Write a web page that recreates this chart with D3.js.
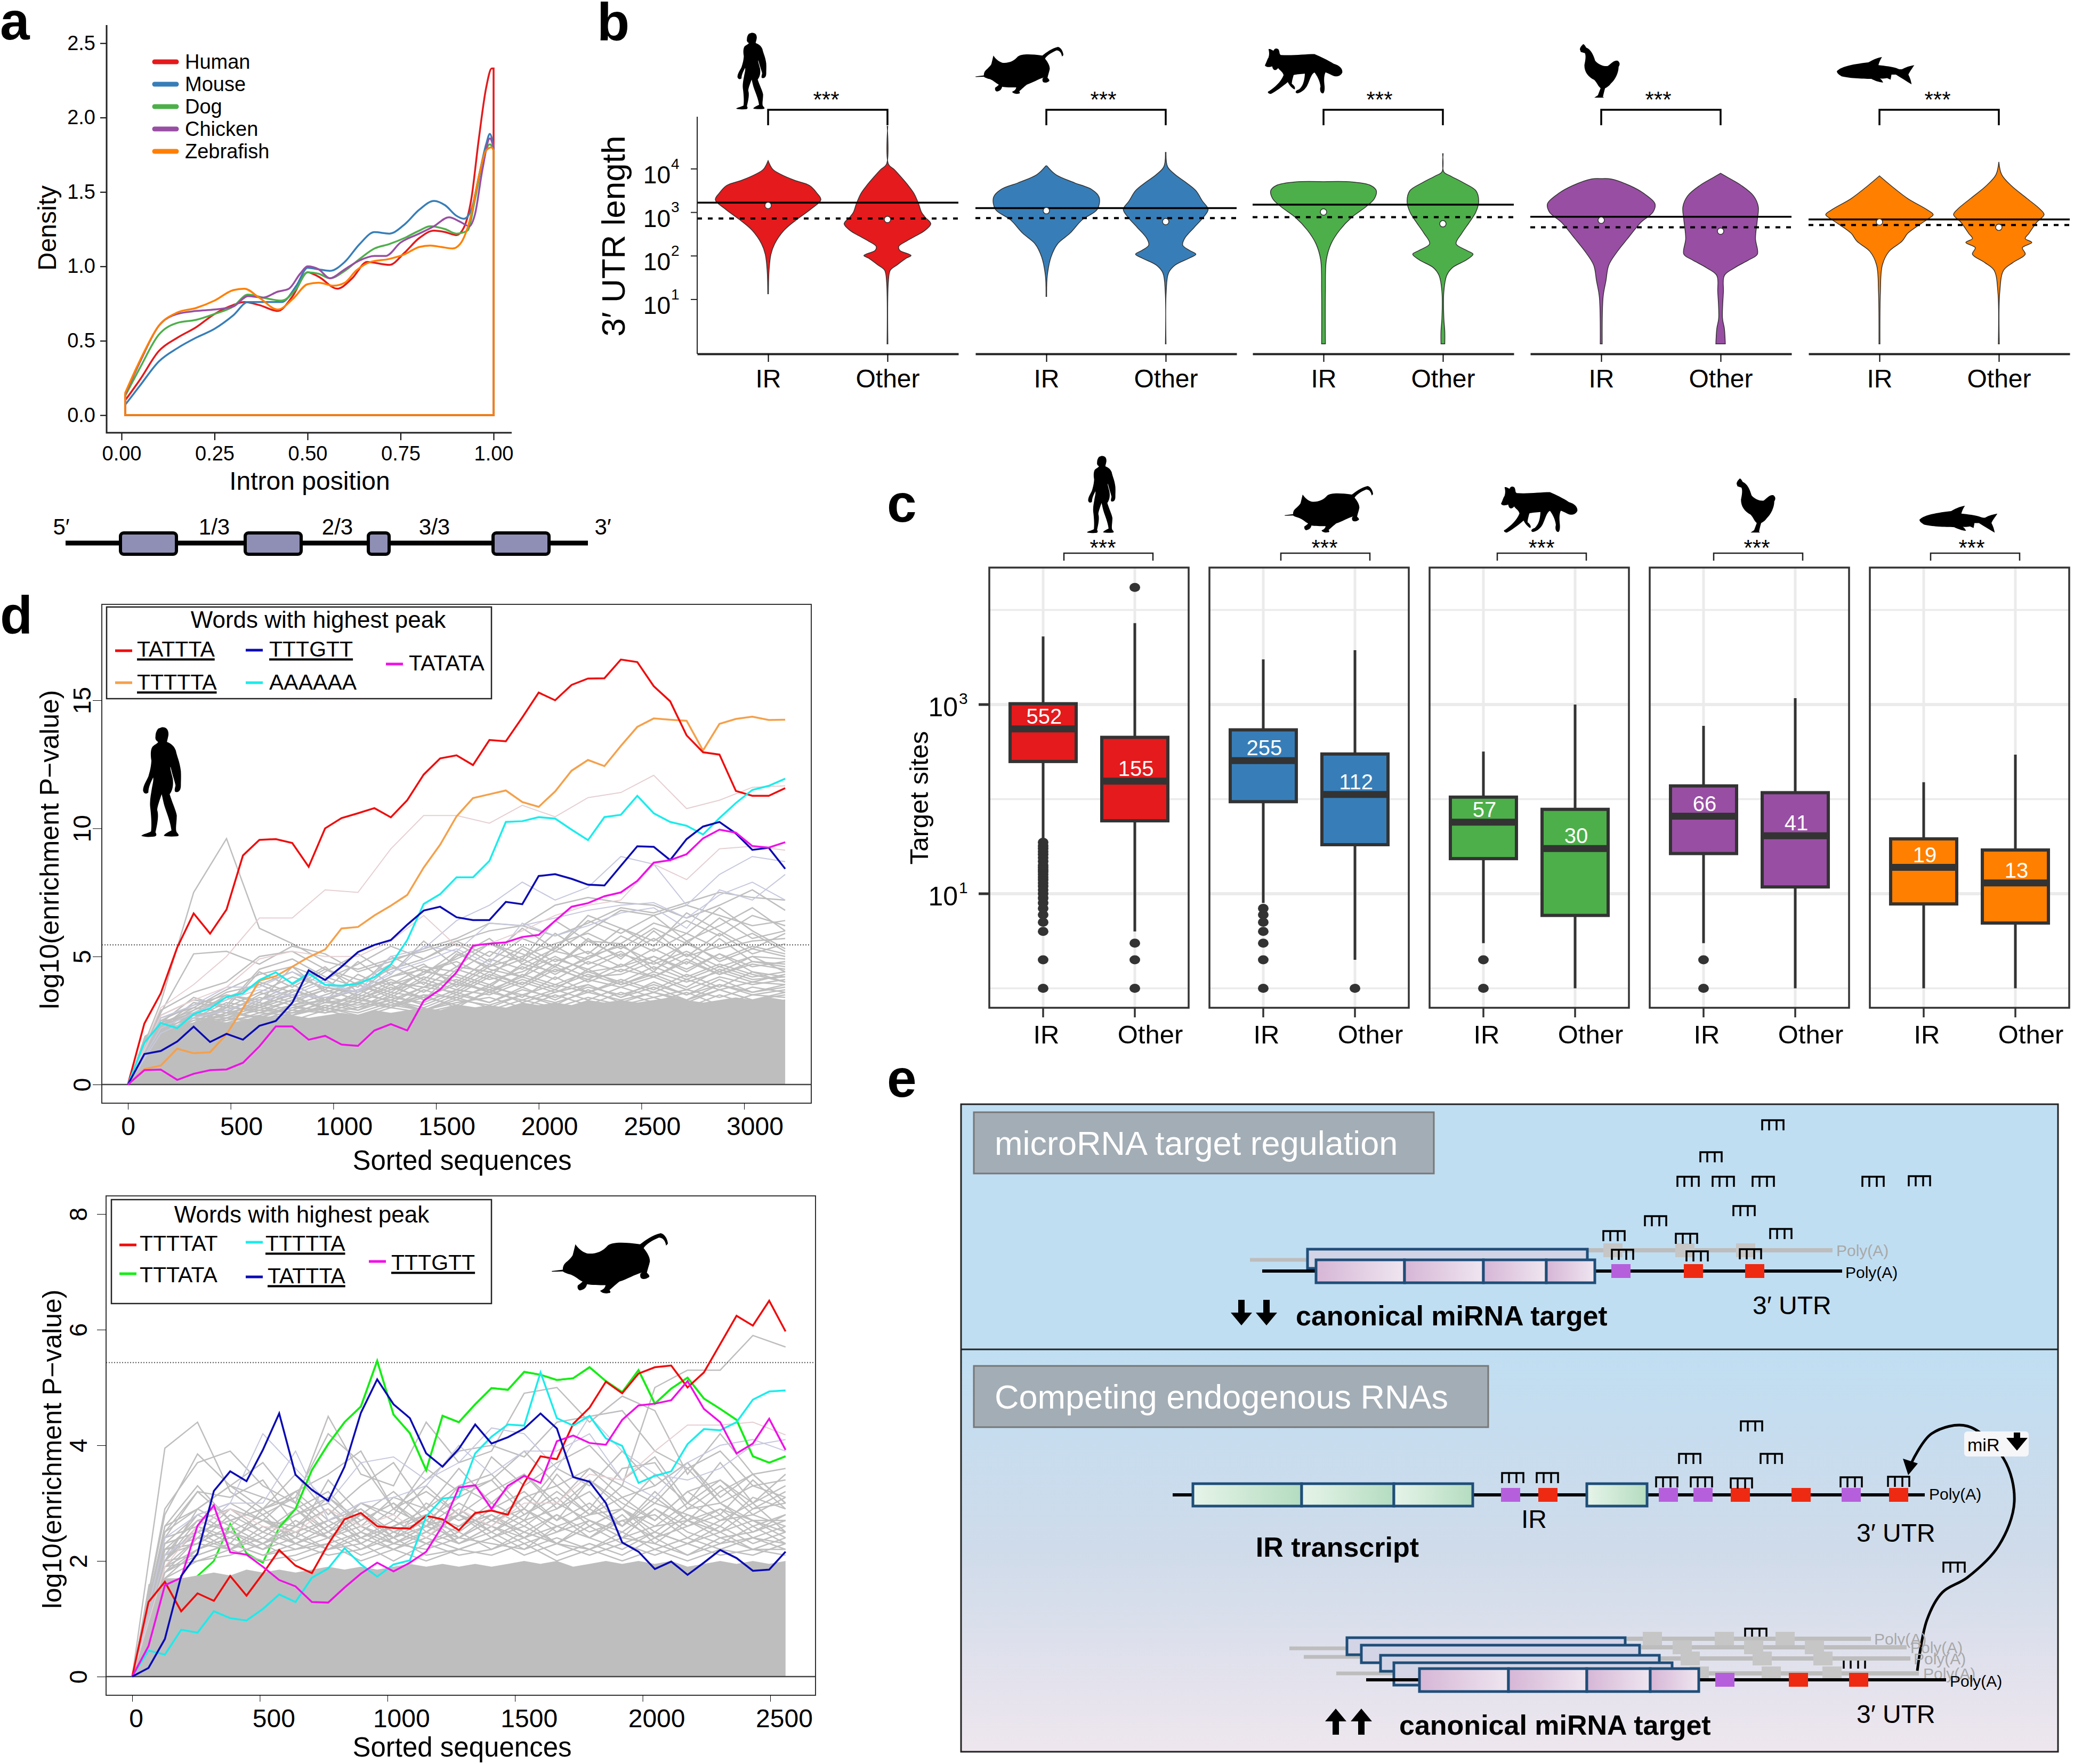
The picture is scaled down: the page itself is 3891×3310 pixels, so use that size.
<!DOCTYPE html>
<html>
<head>
<meta charset="utf-8">
<script src="https://cdnjs.cloudflare.com/ajax/libs/d3/7.8.5/d3.min.js"></script>
<style>
	body { margin: 0; background: #fff; }
	svg { display: block; }
</style>
</head>
<body>
<div id="chart"></div>
<script>
//Panel a data
let densityX = {
	Human: [0.01,0.05,0.1,0.15,0.2,0.25,0.3,0.33,0.37,0.42,0.46,0.5,0.53,0.58,0.62,0.66,0.72,0.76,0.8,0.84,0.87,0.9,0.92,0.94,0.96,0.98,0.995,1],
	Mouse: [0.01,0.05,0.1,0.15,0.2,0.25,0.3,0.34,0.38,0.43,0.47,0.5,0.53,0.56,0.6,0.64,0.68,0.72,0.76,0.8,0.84,0.87,0.9,0.92,0.94,0.96,0.98,0.99,1],
	Dog: [0.01,0.05,0.1,0.15,0.2,0.25,0.3,0.34,0.38,0.43,0.47,0.5,0.53,0.56,0.6,0.64,0.68,0.72,0.76,0.8,0.83,0.87,0.9,0.93,0.95,0.97,0.99,1],
	Chicken: [0.01,0.05,0.1,0.15,0.2,0.25,0.3,0.34,0.38,0.42,0.45,0.48,0.5,0.53,0.56,0.6,0.64,0.68,0.71,0.75,0.8,0.84,0.88,0.91,0.935,0.95,0.97,0.99,1],
	Zebrafish: [0.01,0.05,0.1,0.15,0.2,0.25,0.3,0.33,0.37,0.42,0.46,0.5,0.53,0.57,0.6,0.63,0.67,0.72,0.76,0.8,0.83,0.86,0.89,0.91,0.94,0.96,0.98,0.995,1]
};
let densityY = {
	Human: [0.10,0.24,0.43,0.52,0.59,0.68,0.74,0.76,0.74,0.70,0.80,0.96,0.93,0.85,0.92,1.03,1.01,1.09,1.19,1.24,1.23,1.21,1.26,1.45,1.85,2.2,2.33,2.33],
	Mouse: [0.07,0.20,0.36,0.45,0.52,0.58,0.67,0.76,0.76,0.76,0.87,0.99,0.98,0.97,1.03,1.15,1.23,1.22,1.28,1.38,1.44,1.41,1.34,1.32,1.38,1.6,1.82,1.89,1.8],
	Dog: [0.13,0.32,0.54,0.62,0.64,0.68,0.73,0.81,0.79,0.77,0.85,0.96,0.95,0.92,0.97,1.05,1.12,1.15,1.19,1.24,1.27,1.25,1.22,1.24,1.45,1.7,1.82,1.78],
	Chicken: [0.14,0.36,0.6,0.68,0.7,0.71,0.73,0.8,0.79,0.83,0.85,0.95,1.0,0.98,0.92,0.98,1.04,1.07,1.07,1.16,1.22,1.27,1.33,1.3,1.27,1.35,1.65,1.86,1.8],
	Zebrafish: [0.15,0.37,0.6,0.69,0.72,0.77,0.84,0.85,0.79,0.71,0.78,0.88,0.89,0.87,0.89,0.97,1.03,1.05,1.08,1.13,1.14,1.13,1.12,1.15,1.35,1.6,1.78,1.8,1.78]
};
let speciesNames = ["Human", "Mouse", "Dog", "Chicken", "Zebrafish"];
let speciesColors = ["#e41a1c", "#377eb8", "#4daf4a", "#984ea3", "#ff7f00"];
let aTicksX = [0, 0.25, 0.5, 0.75, 1];
let aTicksY = [0, 0.5, 1, 1.5, 2, 2.5];

//Panel b data, log10 length and violin half width
let violinHumanIR = [[4.19,0],[3.99,5],[3.87,14],[3.74,28],[3.62,44],[3.44,52],[3.29,56],[3.07,45],[2.83,30],[2.59,17],[2.28,7],[2.04,3],[1.67,1],[1.13,0.3]];
let violinHumanOther = [[4.98,0.3],[4.11,1],[3.99,7],[3.8,15],[3.62,22],[3.44,28],[3.2,33],[3.01,36],[2.89,40],[2.74,46],[2.59,40],[2.46,30],[2.34,20],[2.22,12],[2.13,13],[2.01,25],[1.95,20],[1.79,10],[1.67,3],[1.43,1],[-0.02,0.4]];
let violinMouseIR = [[4.07,0.5],[3.87,10],[3.68,30],[3.53,48],[3.35,56],[3.07,54],[2.83,38],[2.52,25],[2.28,12],[1.98,5],[1.55,1],[1.07,0.3]];
let violinMouseOther = [[4.38,0.3],[4.05,2],[3.87,10],[3.68,22],[3.5,32],[3.26,39],[3.07,45],[2.89,40],[2.65,30],[2.4,20],[2.25,18],[2.13,25],[2.04,32],[1.95,25],[1.79,10],[1.61,3],[1.18,0.5],[-0.02,0.3]];
let violinDogIR = [[3.705,0],[3.7,30],[3.62,50],[3.5,56],[3.32,54],[3.13,45],[2.89,30],[2.59,17],[2.28,8],[1.91,3],[1.18,2],[-0.02,2]];
let violinDogOther = [[4.35,0.3],[3.93,1],[3.84,8],[3.68,22],[3.5,35],[3.26,38],[3.01,35],[2.77,28],[2.52,20],[2.28,14],[2.13,25],[2.04,32],[1.91,25],[1.73,10],[1.55,4],[1.18,1],[0.57,1],[0.27,2],[-0.02,2]];
let violinChickenIR = [[3.775,0],[3.77,10],[3.62,30],[3.44,45],[3.2,57],[3.01,55],[2.77,42],[2.4,28],[2.1,17],[1.79,8],[1.43,5],[1.06,2],[-0.02,1]];
let violinChickenOther = [[3.9,0],[3.8,8],[3.62,22],[3.38,35],[3.13,40],[2.83,39],[2.4,37],[2.04,39],[1.91,30],[1.73,15],[1.55,4],[1.18,3],[0.57,2],[0.33,4],[-0.02,5]];
let violinZebrafishIR = [[3.84,0],[3.62,12],[3.32,30],[3.07,50],[2.95,57],[2.83,50],[2.52,30],[2.34,24],[2.1,10],[1.79,3],[1.18,1],[-0.02,0.5]];
let violinZebrafishOther = [[4.16,0],[3.87,3],[3.62,13],[3.32,30],[3.07,44],[2.95,48],[2.77,40],[2.52,32],[2.4,28],[2.31,35],[2.19,25],[2.04,28],[1.85,15],[1.67,5],[1.18,1],[-0.02,0.5]];
let bMeanIR = [3.226, 3.10, 3.18, 2.90, 2.84];
let bMeanOther = [2.86, 2.87, 2.89, 2.66, 2.71];
let bPointIR = [3.16, 3.04, 3.01, 2.82, 2.78];
let bPointOther = [2.84, 2.79, 2.74, 2.57, 2.66];
let bTicks = [1, 2, 3, 4];
let groupNames = ["IR", "Other"];

//Panel c data, pairs are IR then Other
let boxQ1 = [[250,59],[94,33],[23.5,5.9],[26.6,11.8],[7.8,4.9]];
let boxMedian = [[552,155],[255,112],[57,30],[66,41],[19,13]];
let boxQ3 = [[1020,450],[540,300],[105,78],[138,117],[38,29]];
let whiskerHi = [[5250,7250],[3000,3760],[318,1000],[595,1170],[151,295]];
let whiskerLo = [[36,4],[8,2],[3,1],[3,1],[1,1]];
let outliersIR = [
	[1,2,4,5,6,7,8,9,10,11,12,13,14,15,16,17,18,19,20,22,24,26,28,30,32,35],
	[1,2,3,4,5,6,7], [1,2], [1,2], []
];
let outliersOther = [[1,2,3,17300], [1], [], [], []];
let cTicks = [1, 10, 100, 1000, 10000];

//Panel d data, human words sampled every 80 sequences
let humanRed = [0,2.38,3.56,5.35,6.68,5.89,6.83,8.94,9.55,9.58,9.43,8.5,10.0,10.4,10.59,10.79,10.43,11.1,12.1,12.73,12.85,12.47,13.45,13.4,14.33,15.3,15.0,15.6,15.85,15.86,16.59,16.49,15.55,14.96,13.63,12.97,12.88,11.46,11.27,11.27,11.57];
let humanOrange = [0,0.6,0.74,1.4,1.22,1.26,1.96,2.97,4.05,4.23,4.6,4.97,5.27,6.09,6.15,6.6,6.98,7.4,8.47,9.36,10.47,11.18,11.33,11.48,11.03,10.84,11.44,12.25,12.67,12.43,13.22,13.96,14.29,14.24,14.2,13.04,14.08,14.27,14.36,14.23,14.24];
let humanCyan = [0,1.63,2.4,2.2,2.75,2.97,3.42,3.56,4.08,4.38,3.94,4.34,3.89,3.86,3.94,4.19,4.68,5.64,7.05,7.43,8.09,8.09,8.73,10.25,10.28,10.44,10.38,9.95,9.54,10.44,10.53,11.27,10.59,10.25,10.1,9.76,10.4,10.99,11.5,11.66,11.94];
let humanNavy = [0,1.19,1.31,1.68,2.26,1.66,1.98,1.75,2.29,2.48,3.19,4.46,4.08,4.6,5.17,5.45,5.64,6.24,6.79,6.94,6.53,6.42,6.42,7.13,7.04,8.14,8.21,8.03,7.8,7.77,8.54,9.3,9.28,8.76,9.58,10.07,10.25,9.8,9.16,9.24,8.42];
let humanMagenta = [0,0.56,0.58,0.18,0.42,0.56,0.59,0.85,1.49,2.27,2.27,1.75,1.9,1.56,1.51,2.11,2.36,2.11,3.27,3.71,4.38,5.42,5.5,5.55,5.76,5.84,6.39,6.94,7.08,7.35,7.5,7.95,8.66,8.76,8.99,9.61,9.95,9.83,9.31,9.25,9.46];
let humanMass = [0,1.9,2.3,2.3,2.4,2.5,2.4,2.5,2.7,2.6,2.7,2.6,2.7,2.8,2.7,2.9,2.8,2.9,3.0,2.9,3.1,3.0,3.1,3.0,3.2,3.1,3.2,3.1,3.3,3.2,3.3,3.2,3.3,3.4,3.3,3.2,3.3,3.4,3.3,3.4,3.3];
//background words, every 160 sequences
let humanPink = [
	[0,3.0,3.9,5.0,6.5,6.5,7.6,7.5,9.2,10.5,10.5,10.2,10.9,10.45,11.2,11.4,12.07,10.77,11.1,11.6,11.66],
	[0,2.7,3.3,3.8,4.9,5.2,5.0,5.0,5.6,6.6,5.4,5.5,6.0,6.6,7.0,7.2,8.6,8.0,9.2,9.3,9.15]
];
let humanLavender = [
	[0,2.6,3.1,3.8,3.8,4.4,3.9,3.6,5.0,5.3,6.4,7.0,7.9,7.2,7.7,8.9,8.6,7.0,8.2,8.9,8.7],
	[0,2.2,2.8,3.3,3.7,3.5,3.4,3.7,4.3,5.4,5.2,6.3,6.2,6.5,6.8,7.0,7.1,6.5,7.4,7.9,7.2],
	[0,2.0,2.6,2.9,3.3,3.5,4.0,3.6,4.4,4.8,5.3,4.7,6.3,5.8,6.2,6.7,6.9,6.1,7.6,7.2,8.2]
];
let humanGray = [
	[0,3.2,7.5,9.6,6.1,5.5,4.8,4.5,4.9,5.2,5.6,6.0,6.2,5.8,6.3,6.9,6.7,7.1,7.5,7.3,7.2],
	[0,2.8,5.1,5.2,4.7,5.4,5.1,4.4,4.8,5.3,5.7,6.3,6.2,7.0,7.3,7.1,7.0,6.5,7.0,7.6,6.8],
	[0,2.9,3.6,4.0,5.0,5.2,4.5,3.9,4.5,4.9,5.5,4.8,5.7,5.2,6.0,6.8,6.6,7.0,6.6,6.2,6.4],
	[0,2.4,3.4,3.0,4.4,3.8,4.5,4.1,3.9,4.6,4.4,5.2,4.8,5.9,5.1,6.1,5.6,6.4,5.8,6.6,6.2],
	[0,2.5,3.1,3.5,3.2,4.6,3.6,4.0,4.7,3.9,5.1,4.6,5.0,5.5,5.9,5.3,6.1,5.5,6.5,5.7,6.0],
	[0,2.1,2.9,3.4,3.9,3.4,3.8,3.5,4.2,4.5,4.0,4.9,4.5,5.2,4.9,5.8,5.2,5.9,5.3,5.6,5.7],
	[0,2.3,3.0,2.8,3.5,3.9,3.3,4.3,3.7,4.4,4.8,4.2,5.3,4.6,5.6,5.0,5.7,5.0,5.9,5.1,5.5],
	[0,2.2,2.6,3.2,3.0,3.6,4.1,3.4,4.0,3.8,4.6,4.4,4.9,4.3,5.0,5.4,4.8,5.5,4.9,5.4,5.1],
	[0,1.9,2.7,2.9,3.4,3.1,3.5,3.9,3.5,4.2,3.9,4.7,4.2,4.9,4.5,5.1,4.7,5.2,4.6,5.0,4.9],
	[0,2.0,2.4,3.1,2.8,3.3,3.0,3.6,4.1,3.6,4.3,3.9,4.6,4.1,4.8,4.4,5.0,4.5,5.1,4.6,4.8],
	[0,2.1,2.5,2.7,3.2,2.9,3.4,3.2,3.7,4.0,3.5,4.2,3.8,4.5,4.1,4.7,4.2,4.8,4.3,4.7,4.5],
	[0,1.8,2.6,2.5,3.0,3.4,3.0,3.5,3.3,3.8,4.1,3.6,4.3,3.9,4.4,4.0,4.6,4.1,4.6,4.2,4.4],
	[0,2.0,2.3,2.8,2.6,3.1,3.3,3.0,3.6,3.4,3.9,3.7,4.2,3.8,4.3,3.9,4.4,4.0,4.4,4.0,4.3],
	[0,1.7,2.4,2.6,2.9,2.8,3.2,3.1,3.4,3.2,3.7,3.5,4.0,3.6,4.1,3.8,4.2,3.7,4.2,3.9,4.1],
	[0,1.9,2.2,2.5,2.7,3.0,2.9,3.3,3.1,3.5,3.4,3.8,3.5,3.9,3.6,4.0,3.6,4.1,3.7,4.0,3.9],
	[0,1.6,2.3,2.4,2.8,2.7,3.1,2.9,3.3,3.0,3.5,3.2,3.7,3.4,3.8,3.5,3.9,3.5,3.9,3.6,3.8],
	[0,1.8,2.1,2.6,2.5,2.9,2.8,3.2,3.0,3.4,3.1,3.6,3.3,3.7,3.3,3.8,3.4,3.7,3.4,3.8,3.6],
	[0,1.7,2.2,2.3,2.6,2.7,3.0,2.8,3.2,2.9,3.3,3.1,3.5,3.2,3.6,3.3,3.6,3.3,3.7,3.3,3.5],
	[0,2.6,3.0,3.7,4.3,4.6,4.1,4.7,5.4,4.9,5.6,5.0,6.1,5.3,6.4,5.9,6.6,5.6,6.2,6.9,6.0],
	[0,2.4,2.8,3.3,4.0,3.6,4.4,5.1,4.3,5.6,4.6,5.5,4.9,6.4,5.6,5.5,6.3,5.9,6.9,6.0,5.3],
	[0,2.2,3.2,3.0,3.6,4.2,3.8,3.6,4.6,4.1,5.0,5.7,4.7,5.3,6.6,6.1,5.4,6.7,6.0,5.3,5.9],
	[0,2.3,2.8,3.4,3.1,3.7,3.3,3.9,3.4,4.1,3.7,4.4,3.9,4.6,4.0,4.5,4.2,4.9,4.3,4.8,4.6],
	[0,2.5,2.6,3.0,3.6,3.2,3.7,3.3,3.8,3.4,4.0,3.6,4.1,3.7,4.5,3.9,4.3,3.8,4.5,4.1,4.2],
	[0,2.1,2.7,2.6,3.1,3.5,2.9,3.4,3.0,3.7,3.3,3.9,3.4,4.2,3.6,4.1,3.7,4.3,3.8,4.4,4.0],
	[0,1.9,2.5,2.9,2.6,3.0,3.3,2.9,3.5,3.1,3.6,3.2,3.8,3.3,3.9,3.4,4.0,3.5,4.1,3.6,3.9],
	[0,2.2,2.4,2.7,3.0,2.8,3.2,3.4,3.0,3.5,3.0,3.7,3.2,3.6,3.9,3.4,3.8,3.3,3.9,3.5,3.7],
	[0,1.8,2.6,2.4,2.8,3.1,2.8,3.0,3.3,2.9,3.4,3.0,3.5,3.1,3.7,3.2,3.6,3.2,3.7,3.3,3.6],
	[0,2.0,2.2,2.6,2.4,2.8,3.0,2.7,3.1,2.9,3.2,3.4,3.0,3.5,3.1,3.6,3.2,3.6,3.1,3.5,3.4],
	[0,1.7,2.3,2.2,2.6,2.5,2.9,2.6,3.0,2.8,3.1,2.9,3.3,3.0,3.4,3.1,3.4,3.0,3.5,3.1,3.3],
	[0,2.4,2.9,3.6,3.9,4.4,3.7,4.8,3.9,4.3,5.2,4.5,4.2,5.4,4.7,5.2,4.4,5.6,4.8,5.3,5.0],
	[0,2.7,3.3,3.1,4.5,4.9,4.2,3.8,5.0,4.4,4.9,5.5,5.1,4.6,5.7,4.9,6.0,5.0,5.4,5.9,5.2],
	[0,2.3,2.7,3.5,3.3,3.9,4.6,3.6,4.2,4.7,3.8,4.6,5.4,4.8,5.2,4.6,5.3,4.7,5.7,4.8,4.7],
	[0,2.0,2.8,2.7,3.3,3.7,3.2,4.0,3.6,4.4,4.2,3.8,4.7,4.4,4.9,5.5,4.5,5.1,4.4,5.0,4.4],
	[0,2.1,2.3,3.0,2.9,3.3,3.7,3.3,3.9,3.3,4.5,4.1,4.4,5.0,4.4,4.6,5.0,4.4,5.1,4.4,4.2],
	[0,1.9,2.4,2.8,3.1,2.7,3.3,3.7,3.2,3.8,3.6,4.3,3.9,4.7,4.2,4.3,4.8,4.2,4.7,4.3,4.0]
];
let humanXTicks = [0, 500, 1000, 1500, 2000, 2500, 3000];
let humanYTicks = [0, 5, 10, 15];

//mouse words sampled every 64 sequences
let mouseRed = [0,1.29,1.64,1.13,1.44,1.31,1.74,1.4,1.78,2.19,1.92,1.79,2.29,2.72,2.83,2.6,2.57,2.56,2.78,2.72,2.53,2.83,2.87,2.8,3.35,3.81,3.76,4.37,4.65,5.1,4.9,5.24,5.35,5.38,5.0,5.26,5.75,6.24,6.07,6.5,5.97];
let mouseGreen = [0,0.53,1.1,1.49,1.74,2,2.64,2.13,1.97,2.58,2.9,3.57,4.02,4.4,4.67,5.46,4.53,4.21,3.57,4.51,4.4,4.71,4.99,4.96,5.27,5.22,5.13,5.16,5.35,5.11,4.92,5.3,4.72,4.98,5.17,4.81,4.63,4.44,3.81,3.7,3.81];
let mouseCyan = [0,0.45,0.38,0.81,0.76,1.13,1.01,0.97,1.17,1.42,1.29,1.71,1.87,2.22,1.94,1.73,1.94,2.01,2.77,3.08,3.11,3.86,4.15,4.36,4.34,5.26,4.47,4.34,4.51,4.12,3.99,3.35,3.47,3.55,4.02,4.28,4.26,4.4,4.79,4.93,4.95];
let mouseNavy = [0,0.15,0.65,1.74,2.13,3.21,3.55,3.38,3.92,4.55,3.49,3.23,3.04,3.63,4.56,5.14,4.71,4.47,3.86,3.63,3.94,4.36,4.03,4.14,4.29,4.55,4.29,3.45,3.37,3.0,2.32,2.16,1.86,1.99,1.76,1.97,2.19,2.05,1.83,1.85,2.16];
let mouseMagenta = [0,0.53,1.58,1.71,2.61,2.96,2.15,2.11,1.9,1.67,1.56,1.29,1.28,1.54,1.78,1.97,1.82,1.97,2.16,2.61,3.27,3.31,2.9,3.3,3.47,3.35,4.07,4.17,4.04,4.01,4.44,4.69,4.72,4.78,5.11,4.63,4.4,3.86,4.03,4.46,3.92];
let mouseMass = [0,1.6,1.7,1.7,1.75,1.8,1.75,1.85,1.8,1.85,1.8,1.85,1.9,1.85,1.9,1.85,1.9,1.95,1.9,1.95,1.9,1.95,1.9,1.95,2.0,1.95,2.0,1.9,1.95,2.0,1.95,2.0,1.95,2.0,1.9,1.95,2.0,1.95,2.0,1.95,2.0];
//background words, every 128 sequences
let mousePink = [
	[0,1.9,2.6,2.9,2.6,2.5,2.9,2.6,2.8,2.4,2.9,2.6,3.0,3.0,3.5,3.4,3.9,4.35,4.35,4.4,4.18]
];
let mouseLavender = [
	[0,2.4,2.8,3.0,4.2,3.6,3.0,3.7,3.8,3.4,3.7,4.3,4.2,3.6,4.5,3.9,3.5,3.4,3.6,4.0,4.1],
	[0,2.1,2.5,3.0,3.0,3.9,2.7,3.0,3.1,3.3,4.0,3.5,3.9,3.9,4.2,3.4,3.1,3.7,4.0,4.1,3.9]
];
let mouseGray = [
	[0,3.95,4.4,3.2,2.8,3.1,4.2,3.7,2.9,3.4,3.9,4.0,3.8,4.4,4.5,4.6,3.9,3.6,3.9,3.3,3.4],
	[0,2.8,3.85,3.3,3.7,3.0,4.5,3.5,3.3,4.4,3.7,3.9,4.9,5.0,4.4,4.85,4.6,3.5,4.2,3.5,3.0],
	[0,2.6,3.3,2.7,2.9,3.2,2.7,3.0,2.8,3.6,3.2,3.4,3.9,3.3,3.6,3.3,5.0,5.3,5.3,5.9,5.7],
	[0,2.4,3.2,3.1,3.4,2.6,3.1,2.7,3.0,2.6,3.3,3.5,2.9,3.6,3.3,3.9,3.3,3.7,3.1,3.5,3.6],
	[0,2.5,2.9,2.6,3.1,2.9,2.5,3.0,2.7,3.3,2.8,3.2,3.5,2.9,3.4,2.9,3.5,3.0,3.7,3.0,3.3],
	[0,2.2,2.7,2.9,2.5,2.8,3.0,2.5,2.9,2.6,3.0,2.7,3.1,3.3,2.8,3.1,2.7,3.2,3.4,2.9,3.2],
	[0,2.3,2.5,2.7,2.9,2.4,2.7,2.9,2.5,2.8,2.6,3.0,2.7,2.9,3.2,2.6,3.0,2.8,2.6,3.1,2.9],
	[0,2.0,2.6,2.4,2.7,2.6,2.9,2.4,2.7,2.4,2.8,2.5,2.9,2.6,2.8,2.9,2.5,2.9,3.0,2.6,2.8],
	[0,1.9,2.4,2.5,2.3,2.7,2.4,2.6,2.3,2.6,2.4,2.7,2.5,2.8,2.5,2.7,2.8,2.4,2.7,2.8,2.6],
	[0,2.1,2.3,2.2,2.5,2.3,2.5,2.2,2.5,2.7,2.3,2.6,2.3,2.5,2.7,2.4,2.6,2.7,2.4,2.5,2.7],
	[0,1.8,2.2,2.4,2.2,2.4,2.2,2.4,2.6,2.3,2.5,2.2,2.5,2.3,2.6,2.3,2.5,2.3,2.6,2.3,2.5],
	[0,2.0,2.1,2.3,2.1,2.2,2.4,2.1,2.3,2.2,2.4,2.3,2.2,2.4,2.2,2.5,2.2,2.4,2.2,2.4,2.3],
	[0,1.7,2.0,2.1,2.3,2.0,2.2,2.3,2.0,2.3,2.1,2.2,2.4,2.1,2.3,2.1,2.4,2.1,2.3,2.4,2.2],
	[0,2.9,3.7,3.9,3.3,3.0,2.5,2.8,2.3,2.5,2.8,2.6,3.1,2.7,3.4,3.0,2.7,3.2,2.8,3.4,2.9],
	[0,2.2,2.4,2.9,2.7,3.2,3.5,3.9,2.9,3.2,2.8,3.8,3.3,3.7,4.0,3.4,3.8,3.0,3.4,3.0,3.5],
	[0,2.0,2.9,3.3,3.1,2.9,3.2,2.6,3.1,2.9,3.6,3.0,2.7,3.5,2.9,3.6,3.7,2.9,3.3,2.8,3.1],
	[0,1.9,2.2,2.4,2.7,2.5,2.2,2.5,2.3,2.6,2.8,2.4,2.7,2.3,2.6,2.9,2.4,2.8,2.5,2.7,2.4],
	[0,2.3,2.8,2.5,2.3,2.6,2.4,2.8,2.5,2.3,2.6,2.8,2.4,2.6,2.4,2.7,2.4,2.6,2.8,2.4,2.6],
	[0,2.5,3.2,2.7,2.4,2.8,3.1,2.6,2.4,2.7,2.5,2.9,2.6,3.0,2.7,2.5,2.9,2.6,2.9,2.7,2.5],
	[0,1.8,2.4,2.2,2.6,2.3,2.6,2.3,2.6,2.9,2.4,2.7,2.9,2.5,2.9,2.6,3.1,2.7,2.5,2.9,3.0],
	[0,2.2,2.3,2.6,2.3,2.5,2.7,2.4,2.2,2.5,2.3,2.5,2.2,2.6,2.4,2.2,2.5,2.3,2.5,2.2,2.4],
	[0,2.0,2.5,2.2,2.4,2.2,2.3,2.5,2.2,2.4,2.2,2.4,2.6,2.3,2.2,2.4,2.3,2.1,2.4,2.2,2.2],
	[0,1.8,2.1,2.3,2.1,2.3,2.1,2.2,2.4,2.1,2.2,2.4,2.1,2.3,2.1,2.3,2.1,2.3,2.1,2.2,2.1],
	[0,1.9,2.0,2.2,2.0,2.1,2.3,2.0,2.2,2.0,2.2,2.1,2.3,2.0,2.2,2.0,2.2,2.0,2.2,2.1,2.3],
	[0,2.6,2.9,3.3,2.9,3.5,2.8,3.3,3.7,2.9,3.3,3.0,3.5,3.0,3.6,3.1,3.3,3.7,3.0,3.3,3.1],
	[0,2.1,2.8,3.0,2.7,2.4,3.4,2.8,3.2,2.7,3.1,3.4,2.8,3.2,2.8,3.3,3.0,3.6,3.0,2.7,2.7],
	[0,2.4,2.6,2.3,2.9,3.1,2.6,2.9,2.4,3.0,2.7,2.9,3.2,2.7,3.0,2.6,3.2,2.7,3.2,3.5,3.0],
	[0,2.2,2.3,2.8,2.5,2.9,2.4,2.7,3.0,2.5,2.9,2.5,2.8,3.1,2.6,2.9,2.6,3.0,2.7,3.0,2.5],
	[0,2.0,2.7,2.5,2.2,2.6,2.9,2.3,2.6,2.8,2.3,2.6,2.4,2.8,2.4,2.8,2.3,2.7,2.9,2.5,2.8],
	[0,1.7,2.2,2.5,2.8,2.3,2.5,2.8,2.4,2.6,2.4,2.8,2.5,2.3,2.7,2.4,2.9,2.5,2.3,2.6,2.3]
];
let mouseXTicks = [0, 500, 1000, 1500, 2000, 2500];
let mouseYTicks = [0, 2, 4, 6, 8];

let silhouettes = {
	human: { x0: 45, y0: 40, x1: 270, y1: 660, d: "M160,42 C185,40 200,55 198,85 C195,105 190,118 190,125 C215,135 232,150 240,175 C245,205 262,235 268,290 C270,320 268,345 268,370 C268,395 258,410 240,408 C228,405 235,385 238,370 C232,340 222,320 210,265 C205,270 215,300 222,330 C228,370 220,400 205,420 C220,470 240,510 245,540 C245,580 235,620 245,635 C258,650 260,655 245,658 C220,660 190,660 172,655 C175,645 195,635 215,625 C210,580 190,530 180,500 C170,470 165,440 160,420 C150,450 135,490 135,510 C145,540 135,590 125,635 C135,650 130,660 110,660 C85,662 60,662 45,655 C55,645 85,640 100,630 C105,590 100,530 95,490 C92,450 100,420 105,385 C110,360 115,340 112,325 C100,350 85,380 85,410 C75,420 60,420 55,400 C55,370 75,345 85,320 C95,285 100,265 102,230 C95,190 100,160 110,150 C120,140 135,135 140,125 C130,120 122,110 125,95 C125,80 128,65 140,50 Z" },
	mouse: { x0: 18, y0: 45, x1: 665, y1: 390, d: "M150,108 C165,130 185,150 215,160 C260,165 300,150 330,115 C355,95 420,95 510,108 C540,85 580,55 625,45 C650,50 665,85 665,105 L655,115 C650,85 635,70 615,70 C580,85 545,105 530,130 C550,155 565,180 565,205 C560,230 552,250 548,270 C560,280 565,290 560,295 C550,298 550,305 530,305 C515,305 508,295 512,275 L520,268 C480,280 440,305 395,320 C370,340 350,360 340,368 C345,375 350,385 335,385 C320,390 295,385 288,372 C300,365 315,360 318,340 C280,340 240,340 215,335 C210,350 205,365 175,370 C160,365 160,345 165,340 C175,335 185,325 190,320 C170,310 150,290 125,280 C105,275 90,270 80,262 L20,264 L18,260 L80,252 C80,235 85,220 105,205 C120,190 130,180 135,170 C140,150 145,130 150,108 Z" },
	dog: { x0: 52, y0: 35, x1: 480, y1: 300, d: "M72,42 C85,38 92,50 100,50 C105,35 120,35 128,45 C135,60 130,70 140,75 C200,80 270,70 325,70 C360,85 400,105 430,125 C465,135 480,155 478,175 C470,195 445,205 420,190 C400,180 390,175 385,175 C375,200 378,225 380,250 C382,270 380,290 372,295 C358,295 352,275 358,255 C355,225 340,195 325,175 C305,185 300,220 285,250 C275,270 255,290 230,295 C215,290 220,278 240,272 C260,255 270,225 272,182 C250,185 225,185 210,190 C205,210 200,225 200,240 C215,250 222,265 215,272 C200,265 185,245 178,230 C150,255 110,285 85,298 C70,298 62,285 75,282 C105,260 140,230 155,190 C150,170 135,165 125,150 C115,165 100,165 95,150 L92,140 C80,145 60,148 52,135 C60,120 65,100 72,90 C78,70 75,55 72,42 Z" },
	chicken: { x0: 50, y0: 18, x1: 275, y1: 328, d: "M68,20 C75,22 80,30 85,40 C110,50 125,80 135,115 C150,135 185,150 205,145 C225,130 240,110 260,115 C275,125 272,140 265,150 C265,185 245,225 222,245 C210,262 195,270 190,272 C185,290 180,310 178,322 L185,326 L130,326 L150,312 L165,272 C150,260 145,240 130,225 C95,205 75,180 75,140 C80,115 85,90 78,72 L55,65 L50,50 C52,35 60,30 68,20 Z" },
	fish: { x0: 38, y0: 20, x1: 475, y1: 185, d: "M38,105 C60,80 110,65 215,52 C235,40 260,25 292,20 C280,40 275,55 272,68 C310,72 350,78 370,85 C385,92 395,95 405,92 C425,80 450,72 473,68 C460,90 445,110 440,125 C450,145 455,165 458,183 C430,165 400,145 370,125 L345,125 L340,155 L320,145 C305,148 295,150 280,148 C290,155 295,165 298,172 C275,170 250,160 232,150 C180,150 100,145 65,135 C50,125 40,118 38,105 Z" }
};
let silhouetteOrder = ["human", "mouse", "dog", "chicken", "fish"];

let svg = d3.select("#chart")
	.append("svg")
	.attr("width", 3891)
	.attr("height", 3310)
	.style("font-family", "'Liberation Sans', Arial, sans-serif");

function addText(parent, x, y, str, size, fill) {
	return parent.append("text")
		.attr("x", x)
		.attr("y", y)
		.attr("dy", "0.35em")
		.attr("font-size", size)
		.attr("fill", fill || "#000")
		.text(str);
}

function addRotated(parent, x, y, str, size) {
	return parent.append("text")
		.attr("transform", "translate(" + x + "," + y + ") rotate(-90)")
		.attr("dy", "0.35em")
		.attr("text-anchor", "middle")
		.attr("font-size", size)
		.text(str);
}

function addSilhouette(name, x0, y0, x1, y1) {
	let s = silhouettes[name];
	let sx = (x1 - x0) / (s.x1 - s.x0);
	let sy = (y1 - y0) / (s.y1 - s.y0);
	svg.append("path")
		.attr("d", s.d)
		.attr("fill", "#000")
		.attr("transform", "translate(" + (x0 - s.x0 * sx) + "," + (y0 - s.y0 * sy) + ") scale(" + sx + "," + sy + ")");
}

function addPanelLetter(str, x, y) {
	svg.append("text")
		.attr("x", x)
		.attr("y", y)
		.attr("font-size", 100)
		.attr("font-weight", "bold")
		.text(str);
}

addPanelLetter("a", 0, 74);
addPanelLetter("b", 1120, 76);
addPanelLetter("c", 1664, 979);
addPanelLetter("d", 0, 1189);
addPanelLetter("e", 1664, 2058);

//Panel a
function create_a() {
	let g = svg.append("g");
	let x = d3.scaleLinear().domain([0, 1]).range([228, 926]);
	let y = d3.scaleLinear().domain([0, 2.5]).range([779, 81]);

	g.append("g")
		.attr("transform", "translate(200,0)")
		.style("font-size", "38px")
		.call(d3.axisLeft(y).tickValues(aTicksY).tickFormat(d3.format(".1f")).tickSize(12).tickPadding(9))
		.call(a => a.select(".domain").remove());
	g.append("g")
		.attr("transform", "translate(0,812)")
		.style("font-size", "38px")
		.call(d3.axisBottom(x).tickValues(aTicksX).tickFormat(d3.format(".2f")).tickSize(14).tickPadding(11))
		.call(a => a.select(".domain").remove());
	g.selectAll(".tick line").attr("stroke-width", 2);
	g.selectAll(".tick text").attr("font-family", "'Liberation Sans'");
	g.append("path").attr("d", "M200,47 V812 H960").attr("fill", "none").attr("stroke", "#222").attr("stroke-width", 3);

	let area = d3.area()
		.x(d => x(d[0]))
		.y0(y(0))
		.y1(d => y(d[1]))
		.curve(d3.curveMonotoneX);
	speciesNames.forEach((n, i) => {
		let pts = densityX[n].map((v, k) => [v, densityY[n][k]]);
		g.append("path")
			.attr("d", area(pts))
			.attr("fill", "none")
			.attr("stroke", speciesColors[i])
			.attr("stroke-width", 3.5);
		g.append("line")
			.attr("x1", 290).attr("x2", 331)
			.attr("y1", 116 + i * 42).attr("y2", 116 + i * 42)
			.attr("stroke", speciesColors[i])
			.attr("stroke-width", 9)
			.attr("stroke-linecap", "round");
		addText(g, 347, 116 + i * 42, n, 38);
	});

	addRotated(g, 88, 428, "Density", 48);
	addText(g, 581, 902, "Intron position", 48).attr("text-anchor", "middle");

	//gene model below
	g.append("line").attr("x1", 123).attr("x2", 1103).attr("y1", 1019).attr("y2", 1019)
		.attr("stroke", "#000").attr("stroke-width", 9);
	[[226, 331], [460, 565], [691, 730], [925, 1030]].forEach(e => {
		g.append("rect")
			.attr("x", e[0]).attr("y", 1000)
			.attr("width", e[1] - e[0]).attr("height", 40)
			.attr("rx", 6)
			.attr("fill", "#8f8fb5")
			.attr("stroke", "#000")
			.attr("stroke-width", 6);
	});
	[["5′", 115, 988], ["1/3", 402, 988], ["2/3", 633, 988], ["3/3", 815, 988], ["3′", 1131, 988]].forEach(t => {
		addText(g, t[1], t[2], t[0], 42).attr("text-anchor", "middle");
	});
}

//Panel b
function create_b() {
	let g = svg.append("g");
	let violins = [
		[violinHumanIR, violinHumanOther],
		[violinMouseIR, violinMouseOther],
		[violinDogIR, violinDogOther],
		[violinChickenIR, violinChickenOther],
		[violinZebrafishIR, violinZebrafishOther]
	];
	let y = d3.scaleLinear().domain([-0.25, 5.2]).range([664, 219]);
	let w = d3.scaleLinear().domain([0, 56]).range([0, 99]);
	let starts = [1308, 1830, 2350, 2871, 3393];
	let starsX = [1550, 2070, 2588, 3111, 3635];

	violins.forEach((pair, i) => {
		let x = d3.scalePoint().domain(groupNames).range([starts[i], starts[i] + 490]).padding(0.594);
		let area = d3.area()
			.y(d => y(d[0]))
			.x0(d => 0 - w(d[1]))
			.x1(d => w(d[1]))
			.curve(d3.curveCatmullRom);

		g.append("g")
			.attr("transform", "translate(0,664)")
			.style("font-size", "48px")
			.call(d3.axisBottom(x).tickSize(15).tickPadding(14).tickSizeOuter(0))
			.call(a => a.select(".domain").attr("stroke-width", 4).attr("stroke", "#222"))
			.call(a => a.selectAll("text").attr("font-family", "'Liberation Sans'"))
			.call(a => a.selectAll(".tick line").attr("stroke-width", 2));

		groupNames.forEach((name, k) => {
			g.append("path")
				.attr("d", area(pair[k]))
				.attr("transform", "translate(" + x(name) + ",0)")
				.attr("fill", speciesColors[i])
				.attr("stroke", "#333")
				.attr("stroke-width", 1.5);
		});

		g.append("line")
			.attr("x1", starts[i]).attr("x2", starts[i] + 490)
			.attr("y1", y(bMeanOther[i])).attr("y2", y(bMeanOther[i]))
			.attr("stroke", "#000").attr("stroke-width", 4).attr("stroke-dasharray", "9 11");
		g.append("line")
			.attr("x1", starts[i]).attr("x2", starts[i] + 490)
			.attr("y1", y(bMeanIR[i])).attr("y2", y(bMeanIR[i]))
			.attr("stroke", "#000").attr("stroke-width", 3.5);

		[bPointIR, bPointOther].forEach((p, k) => {
			g.append("circle")
				.attr("cx", x(groupNames[k]))
				.attr("cy", y(p[i]))
				.attr("r", 6)
				.attr("fill", "#fff")
				.attr("stroke", "#333")
				.attr("stroke-width", 1.5);
		});

		g.append("path")
			.attr("d", "M" + x("IR") + ",235 V206 H" + x("Other") + " V235")
			.attr("fill", "none")
			.attr("stroke", "#000")
			.attr("stroke-width", 3.5);
		addText(g, starsX[i], 186, "***", 42).attr("text-anchor", "middle");
	});

	//left axis
	g.append("line").attr("x1", 1308).attr("x2", 1308).attr("y1", 219).attr("y2", 664)
		.attr("stroke", "#222").attr("stroke-width", 2);
	bTicks.forEach(t => {
		g.append("line").attr("x1", 1296).attr("x2", 1308).attr("y1", y(t)).attr("y2", y(t))
			.attr("stroke", "#222").attr("stroke-width", 2);
		addText(g, 1258, y(t) + 11, "10", 46).attr("text-anchor", "end");
		addText(g, 1259, y(t) - 10, t, 28);
	});
	addRotated(g, 1150, 443, "3′ UTR length", 62);

	silhouetteOrder.forEach((n, i) => {
		let r = [[1381, 61, 1438, 205], [1830, 88, 1995, 177], [2373, 90, 2519, 177], [2964, 82, 3040, 184], [3446, 107, 3592, 159]][i];
		addSilhouette(n, r[0], r[1], r[2], r[3]);
	});
}

//Panel c
function create_c() {
	let g = svg.append("g");
	let y = d3.scaleLog().domain([Math.pow(10, -0.2056), Math.pow(10, 4.448)]).range([1891, 1065]);
	let starts = [1856, 2269, 2682, 3095, 3508];
	let bracketL = [1996, 2403, 2809, 3215, 3622];
	let starsX = [2069, 2485, 2892, 3296, 3699];
	let boxW = 124;

	starts.forEach((s, i) => {
		let x = d3.scalePoint().domain(groupNames).range([s, s + 374]).padding(0.587);
		let f = g.append("g");
		f.append("rect").attr("x", s).attr("y", 1065).attr("width", 374).attr("height", 826).attr("fill", "#fff");
		cTicks.forEach(t => {
			f.append("line").attr("x1", s).attr("x2", s + 374).attr("y1", y(t)).attr("y2", y(t))
				.attr("stroke", "#ebebeb").attr("stroke-width", t == 1000 || t == 10 ? 6 : 3.5);
		});
		groupNames.forEach((name, k) => {
			let cx = x(name);
			f.append("line").attr("x1", cx).attr("x2", cx).attr("y1", 1065).attr("y2", 1891)
				.attr("stroke", "#ebebeb").attr("stroke-width", 5);
			f.append("line").attr("x1", cx).attr("x2", cx).attr("y1", y(whiskerHi[i][k])).attr("y2", y(whiskerLo[i][k]))
				.attr("stroke", "#333").attr("stroke-width", 5);
			f.append("rect")
				.attr("x", cx - boxW / 2)
				.attr("y", y(boxQ3[i][k]))
				.attr("width", boxW)
				.attr("height", y(boxQ1[i][k]) - y(boxQ3[i][k]))
				.attr("fill", speciesColors[i])
				.attr("stroke", "#333")
				.attr("stroke-width", 6);
			f.append("line")
				.attr("x1", cx - boxW / 2).attr("x2", cx + boxW / 2)
				.attr("y1", y(boxMedian[i][k])).attr("y2", y(boxMedian[i][k]))
				.attr("stroke", "#333").attr("stroke-width", 13);
			addText(f, cx + 2, y(boxMedian[i][k]) - 24, boxMedian[i][k], 40, "#fff").attr("text-anchor", "middle");
			let outs = k == 0 ? outliersIR[i] : outliersOther[i];
			f.selectAll(null)
				.data(outs)
				.enter()
				.append("ellipse")
				.attr("cx", cx)
				.attr("cy", d => y(d))
				.attr("rx", 10)
				.attr("ry", 8.5)
				.attr("fill", "#333");
			f.append("line").attr("x1", cx).attr("x2", cx).attr("y1", 1891).attr("y2", 1909)
				.attr("stroke", "#333").attr("stroke-width", 3.5);
			addText(f, cx + (k == 0 ? 6 : 29), 1941, name, 49).attr("text-anchor", "middle");
		});
		f.append("rect").attr("x", s).attr("y", 1065).attr("width", 374).attr("height", 826)
			.attr("fill", "none").attr("stroke", "#333").attr("stroke-width", 3.5);
		f.append("path")
			.attr("d", "M" + bracketL[i] + ",1052 V1038 H" + (bracketL[i] + 167) + " V1052")
			.attr("fill", "none").attr("stroke", "#222").attr("stroke-width", 2.5);
		addText(f, starsX[i], 1027, "***", 42).attr("text-anchor", "middle");
	});

	[1000, 10].forEach((t, i) => {
		g.append("line").attr("x1", 1836).attr("x2", 1856).attr("y1", y(t)).attr("y2", y(t))
			.attr("stroke", "#333").attr("stroke-width", 5);
		addText(g, 1797, y(t) + 4, "10", 50).attr("text-anchor", "end");
		addText(g, 1799, y(t) - 12, i == 0 ? 3 : 1, 30);
	});
	addRotated(g, 1724, 1497, "Target sites", 49);

	silhouetteOrder.forEach((n, i) => {
		let r = [[2039, 855, 2093, 1000], [2410, 912, 2576, 1000], [2816, 912, 2960, 1000], [3258, 897, 3332, 1000], [3601, 949, 3748, 1000]][i];
		addSilhouette(n, r[0], r[1], r[2], r[3]);
	});
}

//Panel d
function create_enrichment(o) {
	let g = svg.append("g");
	let x = d3.scaleLinear().domain(o.xDomain).range(o.xRange);
	let y = d3.scaleLinear().domain(o.yDomain).range(o.yRange);
	let step = o.step;
	let line = d3.line().x((d, i) => x(i * step)).y(d => y(d));
	let coarse = d3.line().x((d, i) => x(i * step * 2)).y(d => y(d));

	//words that the gray mass covers at the start
	o.series.filter(s => s.hiddenBefore).forEach(s => {
		g.append("path").attr("d", line(s.values)).attr("fill", "none")
			.attr("stroke", s.color).attr("stroke-width", 3.5);
	});

	g.append("path")
		.attr("d", d3.area().x((d, i) => x(i * step)).y0(y(0)).y1(d => y(d))(o.mass))
		.attr("fill", "#bebebe");
	o.gray.forEach(l => {
		g.append("path").attr("d", coarse(l)).attr("fill", "none").attr("stroke", "#bebebe").attr("stroke-width", 2.5);
	});
	o.lavender.forEach(l => {
		g.append("path").attr("d", coarse(l)).attr("fill", "none").attr("stroke", "#c6c8dd").attr("stroke-width", 2);
	});
	o.pink.forEach(l => {
		g.append("path").attr("d", coarse(l)).attr("fill", "none").attr("stroke", "#e6cfd2").attr("stroke-width", 2);
	});

	g.append("line")
		.attr("x1", o.box[0]).attr("x2", o.box[2])
		.attr("y1", y(0)).attr("y2", y(0))
		.attr("stroke", "#444").attr("stroke-width", 2.5);
	g.append("line")
		.attr("x1", o.box[0]).attr("x2", o.box[2])
		.attr("y1", y(o.threshold)).attr("y2", y(o.threshold))
		.attr("stroke", "#555").attr("stroke-width", 2).attr("stroke-dasharray", "2 3");

	o.series.forEach(s => {
		let from = s.hiddenBefore || 0;
		let part = d3.line().defined((d, i) => i >= from).x((d, i) => x(i * step)).y(d => y(d));
		g.append("path").attr("d", part(s.values)).attr("fill", "none")
			.attr("stroke", s.color).attr("stroke-width", 3.5);
	});

	g.append("rect")
		.attr("x", o.box[0]).attr("y", o.box[1])
		.attr("width", o.box[2] - o.box[0]).attr("height", o.box[3] - o.box[1])
		.attr("fill", "none").attr("stroke", "#333").attr("stroke-width", 2);

	g.append("g")
		.attr("transform", "translate(0," + o.box[3] + ")")
		.style("font-size", "48px")
		.call(d3.axisBottom(x).tickValues(o.xTicks).tickFormat(d3.format("d")).tickSize(12).tickPadding(14))
		.call(a => a.select(".domain").remove())
		.call(a => a.selectAll("text")
			.attr("font-family", "'Liberation Sans'")
			.attr("dx", d => d == 0 ? o.zeroShift : o.labelShift));
	g.append("g")
		.attr("transform", "translate(" + o.box[0] + ",0)")
		.style("font-size", "46px")
		.call(d3.axisLeft(y).tickValues(o.yTicks).tickSize(17))
		.call(a => a.select(".domain").remove())
		.call(a => a.selectAll("text")
			.attr("font-family", "'Liberation Sans'")
			.attr("x", 0).attr("dy", 0)
			.attr("text-anchor", "middle")
			.attr("transform", "translate(" + o.yLabelOffset + ",0) rotate(-90)"));

	addText(g, o.xTitleX, o.xTitleY, "Sorted sequences", 51).attr("text-anchor", "middle");
	addRotated(g, o.yTitleX, o.yTitleY, "log10(enrichment P\u2212value)", 50);

	//legend
	g.append("rect")
		.attr("x", o.legend[0]).attr("y", o.legend[1])
		.attr("width", o.legend[2] - o.legend[0]).attr("height", o.legend[3] - o.legend[1])
		.attr("fill", "#fff").attr("stroke", "#222").attr("stroke-width", 2.5);
	addText(g, o.titleX, o.titleY, "Words with highest peak", 44).attr("text-anchor", "middle");
	o.entries.forEach(e => {
		g.append("line").attr("x1", e.lineX).attr("x2", e.lineX + 32)
			.attr("y1", e.lineY).attr("y2", e.lineY)
			.attr("stroke", e.color).attr("stroke-width", 5);
		let t = addText(g, e.textX, e.textY, e.word, 41);
		if (e.underline) {
			t.style("text-decoration", "underline");
		}
	});
}

create_a();
create_b();
create_c();

create_enrichment({
	xDomain: [0, 3000], xRange: [240, 1396],
	yDomain: [0, 15], yRange: [2035, 1314],
	step: 80,
	box: [191, 1134, 1522, 2070],
	threshold: 5.45,
	mass: humanMass, gray: humanGray, lavender: humanLavender, pink: humanPink,
	series: [
		{ values: humanOrange, color: "#f5a04a" },
		{ values: humanRed, color: "#f00a0a" },
		{ values: humanCyan, color: "#19ecec" },
		{ values: humanNavy, color: "#0a0ab4" },
		{ values: humanMagenta, color: "#f010e6" }
	],
	xTicks: humanXTicks, yTicks: humanYTicks,
	zeroShift: 0, labelShift: 20, yLabelOffset: -21,
	xTitleX: 867, xTitleY: 2177, yTitleX: 92, yTitleY: 1594,
	legend: [200, 1139, 922, 1311], titleX: 597, titleY: 1163,
	entries: [
		{ word: "TATTTA", color: "#f00a0a", lineX: 216, lineY: 1221, textX: 257, textY: 1218, underline: true },
		{ word: "TTTTTA", color: "#f5a04a", lineX: 216, lineY: 1281, textX: 257, textY: 1280, underline: true },
		{ word: "TTTGTT", color: "#0a0ab4", lineX: 461, lineY: 1220, textX: 505, textY: 1218, underline: true },
		{ word: "AAAAAA", color: "#19ecec", lineX: 461, lineY: 1281, textX: 505, textY: 1280 },
		{ word: "TATATA", color: "#f010e6", lineX: 724, lineY: 1246, textX: 767, textY: 1244 }
	]
});

create_enrichment({
	xDomain: [0, 2500], xRange: [248, 1445],
	yDomain: [0, 8], yRange: [3146, 2278],
	step: 64,
	box: [199, 2244, 1530, 3181],
	threshold: 5.43,
	mass: mouseMass, gray: mouseGray, lavender: mouseLavender, pink: mousePink,
	series: [
		{ values: mouseGreen, color: "#14ee14", hiddenBefore: 9 },
		{ values: mouseRed, color: "#f00a0a" },
		{ values: mouseCyan, color: "#19ecec" },
		{ values: mouseMagenta, color: "#f010e6" },
		{ values: mouseNavy, color: "#0a0ab4" }
	],
	xTicks: mouseXTicks, yTicks: mouseYTicks,
	zeroShift: 7, labelShift: 26, yLabelOffset: -36,
	xTitleX: 867, xTitleY: 3278, yTitleX: 97, yTitleY: 2719,
	legend: [209, 2251, 922, 2446], titleX: 566, titleY: 2279,
	entries: [
		{ word: "TTTTAT", color: "#f00a0a", lineX: 224, lineY: 2336, textX: 262, textY: 2333 },
		{ word: "TTTATA", color: "#14ee14", lineX: 224, lineY: 2390, textX: 262, textY: 2392 },
		{ word: "TTTTTA", color: "#19ecec", lineX: 461, lineY: 2331, textX: 498, textY: 2333, underline: true },
		{ word: "TATTTA", color: "#0a0ab4", lineX: 461, lineY: 2396, textX: 502, textY: 2394, underline: true },
		{ word: "TTTGTT", color: "#f010e6", lineX: 692, lineY: 2367, textX: 734, textY: 2369, underline: true }
	]
});
addSilhouette("human", 265, 1364, 340, 1570);
addSilhouette("mouse", 1035, 2314, 1253, 2428);

//Panel e schematic
function create_e() {
	let defs = svg.append("defs");
	let bg = defs.append("linearGradient").attr("id", "lowerBg").attr("x1", 0).attr("x2", 0).attr("y1", 0).attr("y2", 1);
	bg.append("stop").attr("offset", "0").attr("stop-color", "#c0def2");
	bg.append("stop").attr("offset", "0.5").attr("stop-color", "#cfdbea");
	bg.append("stop").attr("offset", "1").attr("stop-color", "#eee6ee");
	let ex = defs.append("linearGradient").attr("id", "exonPink");
	ex.append("stop").attr("offset", "0").attr("stop-color", "#d6b6d6");
	ex.append("stop").attr("offset", "1").attr("stop-color", "#efe6f0");
	let gr = defs.append("linearGradient").attr("id", "exonGreen");
	gr.append("stop").attr("offset", "0").attr("stop-color", "#e6f4e9");
	gr.append("stop").attr("offset", "1").attr("stop-color", "#b4dcc0");

	let g = svg.append("g");
	let navy = "#1f4e79";
	g.append("rect").attr("x", 1803).attr("y", 2072).attr("width", 2058).attr("height", 460).attr("fill", "#c0def2");
	g.append("rect").attr("x", 1803).attr("y", 2532).attr("width", 2058).attr("height", 755).attr("fill", "url(#lowerBg)");
	g.append("rect").attr("x", 1803).attr("y", 2072).attr("width", 2058).attr("height", 1215)
		.attr("fill", "none").attr("stroke", "#222").attr("stroke-width", 3);
	g.append("line").attr("x1", 1803).attr("x2", 3861).attr("y1", 2532).attr("y2", 2532)
		.attr("stroke", "#222").attr("stroke-width", 3);

	function titleBox(x, y, w, h, str) {
		g.append("rect").attr("x", x).attr("y", y).attr("width", w).attr("height", h)
			.attr("fill", "#a3adb5").attr("stroke", "#777").attr("stroke-width", 3);
		addText(g, x + 39, y + h / 2, str, 63, "#fff");
	}
	titleBox(1827, 2087, 863, 115, "microRNA target regulation");
	titleBox(1827, 2563, 965, 115, "Competing endogenous RNAs");

	function hline(x1, x2, y, color, width) {
		g.append("line").attr("x1", x1).attr("x2", x2).attr("y1", y).attr("y2", y)
			.attr("stroke", color).attr("stroke-width", width);
	}
	function square(cx, cy, color) {
		g.append("rect").attr("x", cx - 18).attr("y", cy - 13).attr("width", 36).attr("height", 26).attr("fill", color);
	}
	function polyA(x, y, color) {
		addText(g, x, y, "Poly(A)", 30, color || "#000");
	}
	function exons(x1, x2, y, h, cuts, fill) {
		let edges = [x1].concat(cuts, [x2]);
		edges.slice(0, -1).forEach((e, i) => {
			g.append("rect").attr("x", e).attr("y", y).attr("width", edges[i + 1] - e).attr("height", h)
				.attr("fill", fill).attr("stroke", navy).attr("stroke-width", 5);
		});
	}
	function backBox(x1, x2, y1, y2) {
		g.append("rect").attr("x", x1).attr("y", y1).attr("width", x2 - x1).attr("height", y2 - y1)
			.attr("fill", "#d3d4e6").attr("stroke", navy).attr("stroke-width", 5);
	}
	function comb(cx, cy) {
		g.append("path")
			.attr("d", "M" + (cx - 20) + "," + (cy + 10) + " V" + (cy - 9) + " H" + (cx + 20) + " V" + (cy + 10)
				+ " M" + (cx - 7) + "," + (cy - 9) + " V" + (cy + 10) + " M" + (cx + 7) + "," + (cy - 9) + " V" + (cy + 10))
			.attr("fill", "none").attr("stroke", "#000").attr("stroke-width", 3.5);
	}
	function bigArrow(x, y1, y2) {
		let dir = y2 > y1 ? 1 : -1;
		let headY = y2 - dir * 24;
		g.append("path")
			.attr("d", "M" + (x - 6) + "," + y1 + " H" + (x + 6) + " V" + headY + " H" + (x + 20) + " L" + x + "," + y2
				+ " L" + (x - 20) + "," + headY + " H" + (x - 6) + " Z")
			.attr("fill", "#000");
	}

	let purple = "#b65fdc";
	let red = "#ee2a12";
	let ghost = "#bdbdbd";

	//upper panel
	hline(2345, 2453, 2364, ghost, 7);
	hline(2978, 3438, 2346, ghost, 8);
	[3026, 3161, 3275].forEach(c => square(c, 2346, "#c6c6c6"));
	backBox(2453, 2978, 2344, 2380);
	polyA(3445, 2346, "#a8a8a8");
	hline(2368, 3456, 2385, "#000", 6);
	exons(2469, 2992, 2364, 43, [2635, 2783, 2901], "url(#exonPink)");
	square(3041, 2385, purple);
	square(3177, 2385, red);
	square(3292, 2385, red);
	polyA(3462, 2387);
	bigArrow(2329, 2439, 2487);
	bigArrow(2376, 2439, 2487);
	addText(g, 2431, 2469, "canonical miRNA target", 52).attr("font-weight", "bold");
	addText(g, 3288, 2449, "3′ UTR", 48);
	[[3326, 2111], [3210, 2171], [3167, 2217], [3233, 2217], [3308, 2217], [3514, 2217], [3601, 2216],
		[3272, 2272], [3106, 2291], [3341, 2315], [3028, 2319], [3164, 2324], [3044, 2354], [3184, 2357], [3284, 2353]]
		.forEach(c => comb(c[0], c[1]));

	//middle transcript
	hline(2200, 3611, 2805, "#000", 6);
	exons(2238, 2763, 2784, 42, [2442, 2615], "url(#exonGreen)");
	exons(2977, 3090, 2784, 42, [], "url(#exonGreen)");
	[[2834, purple], [2904, red], [3130, purple], [3195, purple], [3265, red], [3379, red], [3473, purple], [3562, red]]
		.forEach(s => square(s[0], 2805, s[1]));
	polyA(3619, 2803);
	addText(g, 2878, 2850, "IR", 48).attr("text-anchor", "middle");
	addText(g, 3483, 2876, "3′ UTR", 48);
	addText(g, 2509, 2903, "IR transcript", 52).attr("font-weight", "bold").attr("text-anchor", "middle");
	[[3286, 2676], [3170, 2737], [3323, 2737], [2838, 2773], [2903, 2773], [3127, 2781], [3192, 2781], [3267, 2783],
		[3473, 2781], [3562, 2780], [3666, 2941], [3294, 3065], [3479, 3121]]
		.forEach(c => comb(c[0], c[1]));

	//curved arrow and miR tag
	let curve = d3.line().curve(d3.curveCatmullRom);
	g.append("path")
		.attr("d", curve([[3597, 3135], [3615, 3040], [3644, 2988], [3691, 2960], [3750, 2900], [3779, 2818], [3759, 2737], [3691, 2676], [3624, 2690], [3586, 2745]]))
		.attr("fill", "none").attr("stroke", "#000").attr("stroke-width", 5);
	g.append("path").attr("d", "M3570,2737 L3598,2746 L3580,2768 Z").attr("fill", "#000");
	g.append("rect").attr("x", 3685).attr("y", 2686).attr("width", 121).attr("height", 47).attr("rx", 6).attr("fill", "#f6f6f8");
	addText(g, 3691, 2711, "miR", 34);
	bigArrow(3784, 2688, 2722);

	//lower stack
	let rows = [
		[3052, 3510, 3075, [3100, 3235, 3349], 3516],
		[3079, 3577, 3091, [3156, 3290, 3404], 3584],
		[3113, 3584, 3112, [3171, 3306, 3420], 3590],
		[3140, 3600, 3140, [3188, 3323, 3437], 3608]
	];
	rows.forEach(r => {
		hline(r[0], r[1], r[2], ghost, 8);
		r[3].forEach(c => square(c, r[2], "#c6c6c6"));
		polyA(r[4], r[2], "#a8a8a8");
	});
	hline(2419, 2527, 3093, ghost, 7);
	hline(2446, 2554, 3109, ghost, 7);
	hline(2507, 2615, 3140, ghost, 7);
	backBox(2527, 3049, 3073, 3105);
	backBox(2554, 3076, 3087, 3120);
	backBox(2590, 3113, 3106, 3136);
	backBox(2615, 3137, 3120, 3162);
	hline(2563, 3651, 3152, "#000", 6);
	exons(2663, 3187, 3131, 43, [2830, 2977, 3096], "url(#exonPink)");
	square(3236, 3152, purple);
	square(3374, 3152, red);
	square(3487, 3152, red);
	polyA(3658, 3154);
	addText(g, 3483, 3216, "3′ UTR", 48);
	addText(g, 2625, 3237, "canonical miRNA target", 52).attr("font-weight", "bold");
	bigArrow(2506, 3255, 3206);
	bigArrow(2554, 3255, 3206);
}
create_e();
</script>
</body>
</html>
